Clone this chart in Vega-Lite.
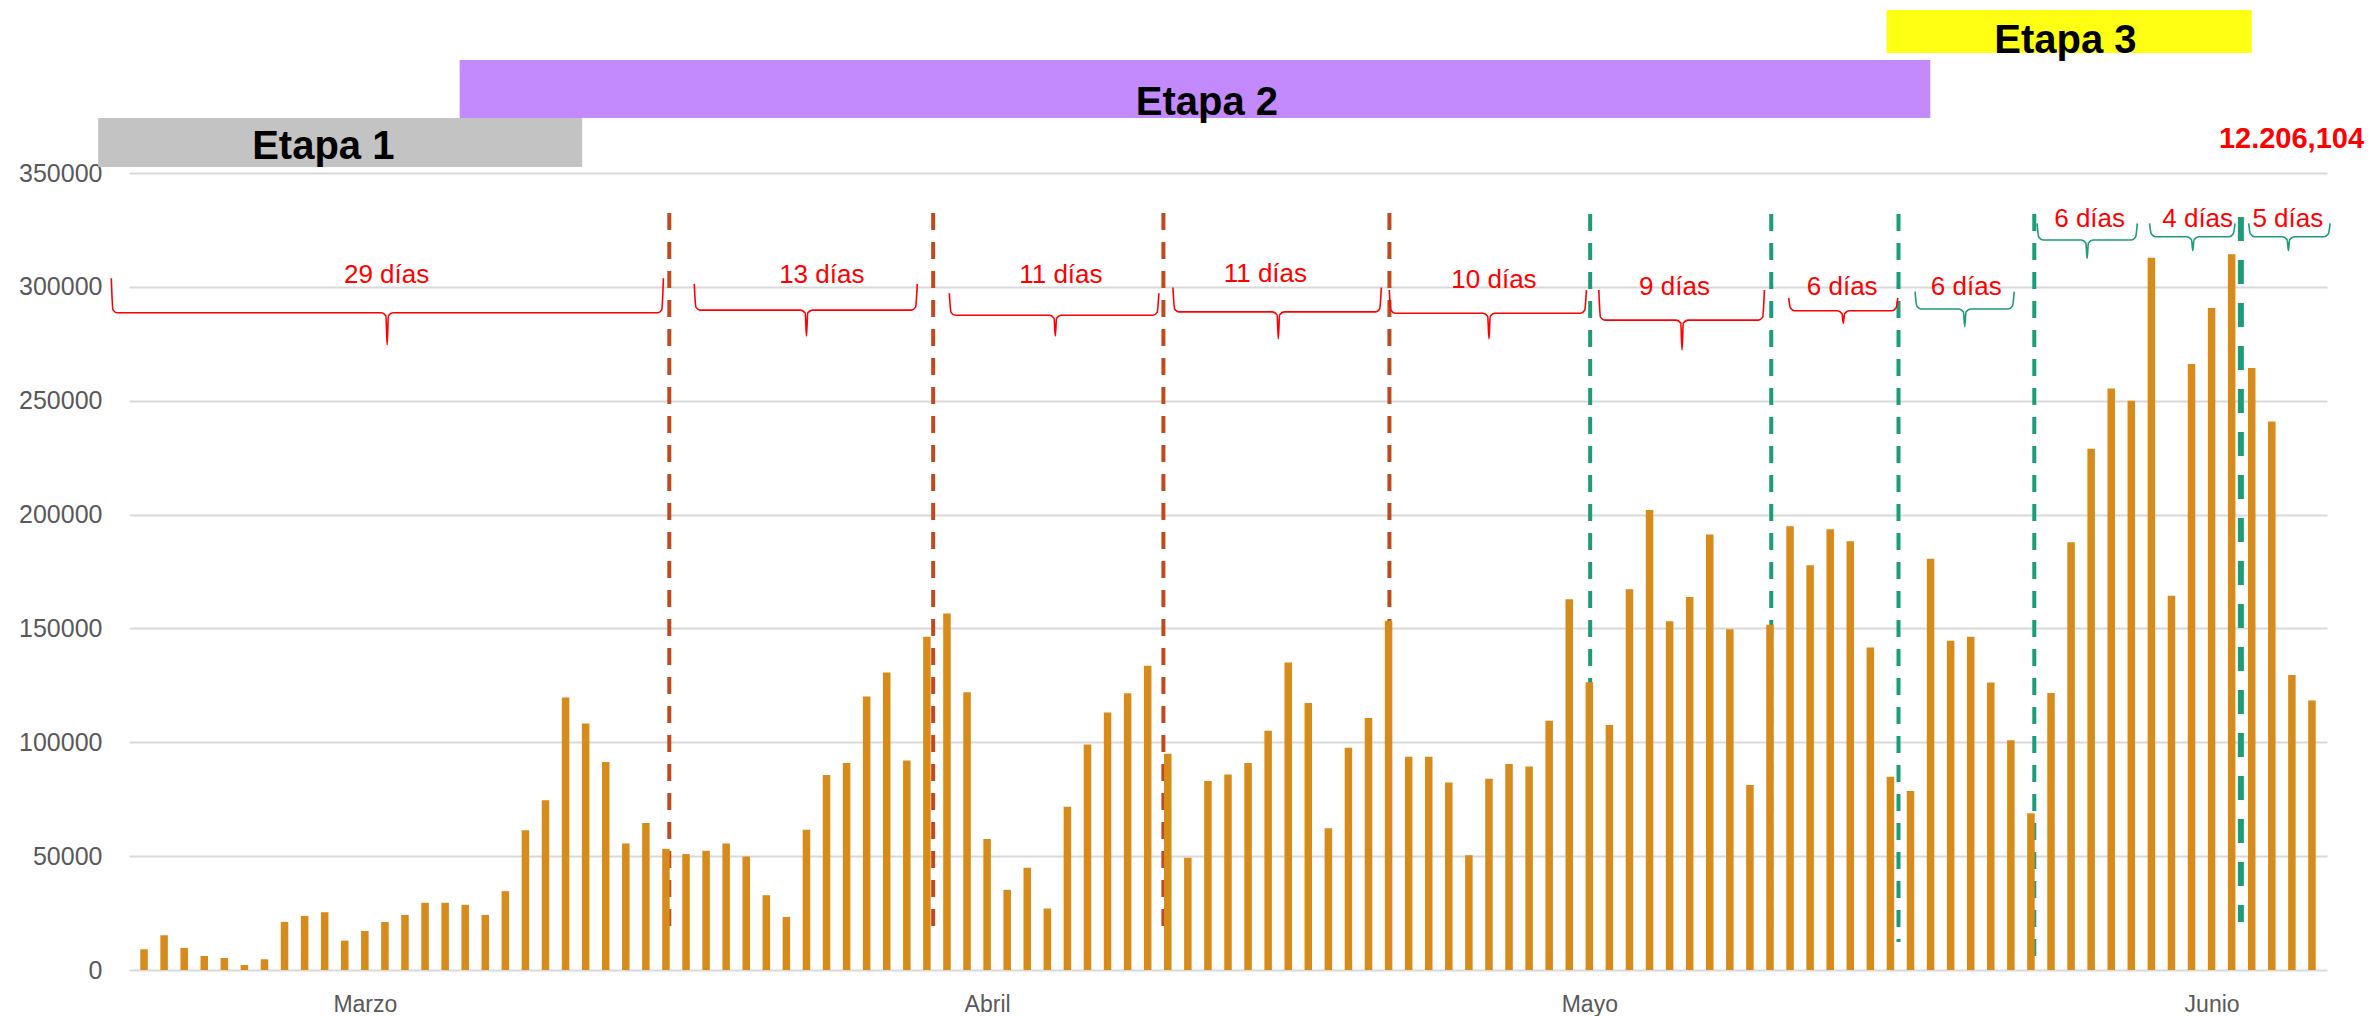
{
  "$schema": "https://vega.github.io/schema/vega-lite/v6.json",
  "width": 2198,
  "height": 797,
  "autosize": {"type": "none"},
  "padding": {"left": 129, "top": 173, "right": 44, "bottom": 46},
  "background": "white",
  "config": {"view": {"stroke": null}},
  "resolve": {"scale": {"color": "independent"}},
  "encoding": {
    "x": {
      "field": "fecha", "type": "temporal",
      "scale": {"type": "utc", "domain": [{"year": 2021, "month": 2, "date": 17, "hours": 12, "utc": true}, {"year": 2021, "month": 6, "date": 6, "hours": 12, "utc": true}]},
      "axis": {
        "title": null, "domain": false, "ticks": false, "grid": false,
        "values": [{"year": 2021, "month": 3, "date": 1, "utc": true}, {"year": 2021, "month": 4, "date": 1, "utc": true}, {"year": 2021, "month": 5, "date": 1, "utc": true}, {"year": 2021, "month": 6, "date": 1, "utc": true}],
        "labelExpr": "['Enero','Febrero','Marzo','Abril','Mayo','Junio','Julio'][utcmonth(datum.value)]",
        "labelFont": "Liberation Sans", "labelFontSize": 23, "labelColor": "#595959",
        "labelPadding": 23, "labelOverlap": false, "labelFlush": false
      }
    },
    "y": {
      "field": "valor", "type": "quantitative",
      "scale": {"domain": [0, 350000], "nice": false},
      "axis": {
        "title": null, "domain": false, "ticks": false, "grid": true, "gridColor": "#D9D9D9", "gridWidth": 2,
        "values": [0, 50000, 100000, 150000, 200000, 250000, 300000, 350000], "format": "d",
        "labelFont": "Liberation Sans", "labelFontSize": 25, "labelColor": "#595959", "labelPadding": 27
      }
    }
  },
  "layer": [
    {
      "data": {"values": [
        {"etapa": "Etapa 1", "fecha": "2021-02-15T17:10Z", "fecha2": "2021-03-11T19:50Z", "valor": 374100, "valor2": 352600},
        {"etapa": "Etapa 2", "fecha": "2021-03-05T17:20Z", "fecha2": "2021-05-17T23:40Z", "valor": 399600, "valor2": 374100},
        {"etapa": "Etapa 3", "fecha": "2021-05-15T19:20Z", "fecha2": "2021-06-03T00:00Z", "valor": 421600, "valor2": 402700}
      ]},
      "mark": {"type": "rect"},
      "encoding": {
        "x2": {"field": "fecha2"},
        "y2": {"field": "valor2"},
        "color": {"field": "etapa", "type": "nominal", "scale": {"domain": ["Etapa 1", "Etapa 2", "Etapa 3"], "range": ["#C3C3C3", "#C38AFE", "#FFFF14"]}, "legend": null}
      }
    },
    {
      "data": {"values": [
        {"texto": "Etapa 1", "fecha": "2021-02-26T22:20Z", "valor": 356100},
        {"texto": "Etapa 2", "fecha": "2021-04-11T22:50Z", "valor": 375500},
        {"texto": "Etapa 3", "fecha": "2021-05-24T17:10Z", "valor": 402700}
      ]},
      "mark": {"type": "text", "font": "Liberation Sans", "fontWeight": "bold", "fontSize": 40, "color": "#000000", "align": "center", "baseline": "alphabetic"},
      "encoding": {"text": {"field": "texto"}}
    },
    {
      "data": {"values": [
        {"fecha": "2021-03-16T04:00Z", "valor": 332400, "valor2": 18900},
        {"fecha": "2021-03-29T07:30Z", "valor": 332400, "valor2": 18900},
        {"fecha": "2021-04-09T18:45Z", "valor": 332400, "valor2": 18900},
        {"fecha": "2021-04-21T01:00Z", "valor": 332400, "valor2": 18900}
      ]},
      "mark": {"type": "rule", "color": "#BE4B1E", "strokeWidth": 4, "strokeDash": [17, 12]},
      "encoding": {"y2": {"field": "valor2"}}
    },
    {
      "data": {"values": [
        {"fecha": "2021-05-01T01:00Z", "valor": 332000, "valor2": 18900},
        {"fecha": "2021-05-10T01:30Z", "valor": 332000, "valor2": 18900},
        {"fecha": "2021-05-16T09:40Z", "valor": 332000, "valor2": 12300},
        {"fecha": "2021-05-23T04:00Z", "valor": 332000, "valor2": 5700}
      ]},
      "mark": {"type": "rule", "color": "#1E9B78", "strokeWidth": 4, "strokeDash": [17, 12]},
      "encoding": {"y2": {"field": "valor2"}}
    },
    {
      "data": {"values": [
        {"fecha": "2021-06-02T11:00Z", "valor": 330700, "valor2": 21100}
      ]},
      "mark": {"type": "rule", "color": "#1E9B78", "strokeWidth": 6, "strokeDash": [24, 19]},
      "encoding": {"y2": {"field": "valor2"}}
    },
    {
      "data": {"values": [
        {"fecha": "2021-02-18", "valor": 9100}, {"fecha": "2021-02-19", "valor": 15250}, {"fecha": "2021-02-20", "valor": 9700},
        {"fecha": "2021-02-21", "valor": 6160}, {"fecha": "2021-02-22", "valor": 5280}, {"fecha": "2021-02-23", "valor": 2200},
        {"fecha": "2021-02-24", "valor": 4700}, {"fecha": "2021-02-25", "valor": 21100}, {"fecha": "2021-02-26", "valor": 23750},
        {"fecha": "2021-02-27", "valor": 25370}, {"fecha": "2021-02-28", "valor": 12900}, {"fecha": "2021-03-01", "valor": 17150},
        {"fecha": "2021-03-02", "valor": 21100}, {"fecha": "2021-03-03", "valor": 24200}, {"fecha": "2021-03-04", "valor": 29500},
        {"fecha": "2021-03-05", "valor": 29500}, {"fecha": "2021-03-06", "valor": 28600}, {"fecha": "2021-03-07", "valor": 24200},
        {"fecha": "2021-03-08", "valor": 34600}, {"fecha": "2021-03-09", "valor": 61400}, {"fecha": "2021-03-10", "valor": 74600},
        {"fecha": "2021-03-11", "valor": 119650}, {"fecha": "2021-03-12", "valor": 108200}, {"fecha": "2021-03-13", "valor": 91350},
        {"fecha": "2021-03-14", "valor": 55570}, {"fecha": "2021-03-15", "valor": 64500}, {"fecha": "2021-03-16", "valor": 53200},
        {"fecha": "2021-03-17", "valor": 50900}, {"fecha": "2021-03-18", "valor": 52350}, {"fecha": "2021-03-19", "valor": 55570},
        {"fecha": "2021-03-20", "valor": 49850}, {"fecha": "2021-03-21", "valor": 32850}, {"fecha": "2021-03-22", "valor": 23300},
        {"fecha": "2021-03-23", "valor": 61600}, {"fecha": "2021-03-24", "valor": 85600}, {"fecha": "2021-03-25", "valor": 90900},
        {"fecha": "2021-03-26", "valor": 120100}, {"fecha": "2021-03-27", "valor": 130650}, {"fecha": "2021-03-28", "valor": 91950},
        {"fecha": "2021-03-29", "valor": 146300}, {"fecha": "2021-03-30", "valor": 156600}, {"fecha": "2021-03-31", "valor": 122000},
        {"fecha": "2021-04-01", "valor": 57500}, {"fecha": "2021-04-02", "valor": 35200}, {"fecha": "2021-04-03", "valor": 44900},
        {"fecha": "2021-04-04", "valor": 27000}, {"fecha": "2021-04-05", "valor": 71700}, {"fecha": "2021-04-06", "valor": 99000},
        {"fecha": "2021-04-07", "valor": 113050}, {"fecha": "2021-04-08", "valor": 121550}, {"fecha": "2021-04-09", "valor": 133600},
        {"fecha": "2021-04-10", "valor": 95000}, {"fecha": "2021-04-11", "valor": 49300}, {"fecha": "2021-04-12", "valor": 83000},
        {"fecha": "2021-04-13", "valor": 85800}, {"fecha": "2021-04-14", "valor": 90900}, {"fecha": "2021-04-15", "valor": 105100},
        {"fecha": "2021-04-16", "valor": 135000}, {"fecha": "2021-04-17", "valor": 117300}, {"fecha": "2021-04-18", "valor": 62300},
        {"fecha": "2021-04-19", "valor": 97650}, {"fecha": "2021-04-20", "valor": 110700}, {"fecha": "2021-04-21", "valor": 153400},
        {"fecha": "2021-04-22", "valor": 93700}, {"fecha": "2021-04-23", "valor": 93700}, {"fecha": "2021-04-24", "valor": 82300},
        {"fecha": "2021-04-25", "valor": 50400}, {"fecha": "2021-04-26", "valor": 84000}, {"fecha": "2021-04-27", "valor": 90500},
        {"fecha": "2021-04-28", "valor": 89400}, {"fecha": "2021-04-29", "valor": 109500}, {"fecha": "2021-04-30", "valor": 162800},
        {"fecha": "2021-05-01", "valor": 126400}, {"fecha": "2021-05-02", "valor": 107600}, {"fecha": "2021-05-03", "valor": 167200},
        {"fecha": "2021-05-04", "valor": 202000}, {"fecha": "2021-05-05", "valor": 153100}, {"fecha": "2021-05-06", "valor": 163800},
        {"fecha": "2021-05-07", "valor": 191200}, {"fecha": "2021-05-08", "valor": 149600}, {"fecha": "2021-05-09", "valor": 81200},
        {"fecha": "2021-05-10", "valor": 151600}, {"fecha": "2021-05-11", "valor": 194900}, {"fecha": "2021-05-12", "valor": 177700},
        {"fecha": "2021-05-13", "valor": 193500}, {"fecha": "2021-05-14", "valor": 188300}, {"fecha": "2021-05-15", "valor": 141600},
        {"fecha": "2021-05-16", "valor": 84900}, {"fecha": "2021-05-17", "valor": 78600}, {"fecha": "2021-05-18", "valor": 180600},
        {"fecha": "2021-05-19", "valor": 144600}, {"fecha": "2021-05-20", "valor": 146300}, {"fecha": "2021-05-21", "valor": 126200},
        {"fecha": "2021-05-22", "valor": 100900}, {"fecha": "2021-05-23", "valor": 68800}, {"fecha": "2021-05-24", "valor": 121600},
        {"fecha": "2021-05-25", "valor": 187800}, {"fecha": "2021-05-26", "valor": 228900}, {"fecha": "2021-05-27", "valor": 255400},
        {"fecha": "2021-05-28", "valor": 250000}, {"fecha": "2021-05-29", "valor": 312800}, {"fecha": "2021-05-30", "valor": 164400},
        {"fecha": "2021-05-31", "valor": 266100}, {"fecha": "2021-06-01", "valor": 290700}, {"fecha": "2021-06-02", "valor": 314300},
        {"fecha": "2021-06-03", "valor": 264400}, {"fecha": "2021-06-04", "valor": 240900}, {"fecha": "2021-06-05", "valor": 129500},
        {"fecha": "2021-06-06", "valor": 118300}
      ]},
      "mark": {"type": "bar", "width": 7.5, "color": "#D68B1A"}
    },
    {
      "data": {"values": [
        {"llave": 1, "etapa": "2", "fecha": "2021-02-16T08:50Z", "valor": 303800},
        {"llave": 1, "etapa": "2", "fecha": "2021-02-16T10:50Z", "valor": 289900},
        {"llave": 1, "etapa": "2", "fecha": "2021-02-16T15:50Z", "valor": 288600},
        {"llave": 1, "etapa": "2", "fecha": "2021-03-01T19:40Z", "valor": 288600},
        {"llave": 1, "etapa": "2", "fecha": "2021-03-02T01:10Z", "valor": 287300},
        {"llave": 1, "etapa": "2", "fecha": "2021-03-02T02:40Z", "valor": 274600},
        {"llave": 1, "etapa": "2", "fecha": "2021-03-02T04:10Z", "valor": 287300},
        {"llave": 1, "etapa": "2", "fecha": "2021-03-02T09:40Z", "valor": 288600},
        {"llave": 1, "etapa": "2", "fecha": "2021-03-15T14:00Z", "valor": 288600},
        {"llave": 1, "etapa": "2", "fecha": "2021-03-15T19:00Z", "valor": 289900},
        {"llave": 1, "etapa": "2", "fecha": "2021-03-15T21:00Z", "valor": 303800},

        {"llave": 2, "etapa": "2", "fecha": "2021-03-17T09:50Z", "valor": 301300},
        {"llave": 2, "etapa": "2", "fecha": "2021-03-17T11:50Z", "valor": 291100},
        {"llave": 2, "etapa": "2", "fecha": "2021-03-17T16:50Z", "valor": 289800},
        {"llave": 2, "etapa": "2", "fecha": "2021-03-22T17:00Z", "valor": 289800},
        {"llave": 2, "etapa": "2", "fecha": "2021-03-22T22:30Z", "valor": 288500},
        {"llave": 2, "etapa": "2", "fecha": "2021-03-23T00:00Z", "valor": 278400},
        {"llave": 2, "etapa": "2", "fecha": "2021-03-23T01:30Z", "valor": 288500},
        {"llave": 2, "etapa": "2", "fecha": "2021-03-23T07:00Z", "valor": 289800},
        {"llave": 2, "etapa": "2", "fecha": "2021-03-28T05:30Z", "valor": 289800},
        {"llave": 2, "etapa": "2", "fecha": "2021-03-28T10:30Z", "valor": 291100},
        {"llave": 2, "etapa": "2", "fecha": "2021-03-28T12:30Z", "valor": 301300},

        {"llave": 3, "etapa": "2", "fecha": "2021-03-30T02:50Z", "valor": 297200},
        {"llave": 3, "etapa": "2", "fecha": "2021-03-30T04:50Z", "valor": 288800},
        {"llave": 3, "etapa": "2", "fecha": "2021-03-30T09:50Z", "valor": 287500},
        {"llave": 3, "etapa": "2", "fecha": "2021-04-04T02:30Z", "valor": 287500},
        {"llave": 3, "etapa": "2", "fecha": "2021-04-04T08:00Z", "valor": 286200},
        {"llave": 3, "etapa": "2", "fecha": "2021-04-04T09:30Z", "valor": 278400},
        {"llave": 3, "etapa": "2", "fecha": "2021-04-04T11:00Z", "valor": 286200},
        {"llave": 3, "etapa": "2", "fecha": "2021-04-04T16:30Z", "valor": 287500},
        {"llave": 3, "etapa": "2", "fecha": "2021-04-09T06:20Z", "valor": 287500},
        {"llave": 3, "etapa": "2", "fecha": "2021-04-09T11:20Z", "valor": 288800},
        {"llave": 3, "etapa": "2", "fecha": "2021-04-09T13:20Z", "valor": 297200},

        {"llave": 4, "etapa": "2", "fecha": "2021-04-10T06:10Z", "valor": 299700},
        {"llave": 4, "etapa": "2", "fecha": "2021-04-10T08:10Z", "valor": 290300},
        {"llave": 4, "etapa": "2", "fecha": "2021-04-10T13:10Z", "valor": 289000},
        {"llave": 4, "etapa": "2", "fecha": "2021-04-15T05:10Z", "valor": 289000},
        {"llave": 4, "etapa": "2", "fecha": "2021-04-15T10:40Z", "valor": 287700},
        {"llave": 4, "etapa": "2", "fecha": "2021-04-15T12:10Z", "valor": 277200},
        {"llave": 4, "etapa": "2", "fecha": "2021-04-15T13:40Z", "valor": 287700},
        {"llave": 4, "etapa": "2", "fecha": "2021-04-15T19:10Z", "valor": 289000},
        {"llave": 4, "etapa": "2", "fecha": "2021-04-20T08:20Z", "valor": 289000},
        {"llave": 4, "etapa": "2", "fecha": "2021-04-20T13:20Z", "valor": 290300},
        {"llave": 4, "etapa": "2", "fecha": "2021-04-20T15:20Z", "valor": 299700},

        {"llave": 5, "etapa": "2", "fecha": "2021-04-21T00:50Z", "valor": 298600},
        {"llave": 5, "etapa": "2", "fecha": "2021-04-21T02:50Z", "valor": 289700},
        {"llave": 5, "etapa": "2", "fecha": "2021-04-21T07:50Z", "valor": 288400},
        {"llave": 5, "etapa": "2", "fecha": "2021-04-25T17:00Z", "valor": 288400},
        {"llave": 5, "etapa": "2", "fecha": "2021-04-25T22:30Z", "valor": 287100},
        {"llave": 5, "etapa": "2", "fecha": "2021-04-26T00:00Z", "valor": 277200},
        {"llave": 5, "etapa": "2", "fecha": "2021-04-26T01:30Z", "valor": 287100},
        {"llave": 5, "etapa": "2", "fecha": "2021-04-26T07:00Z", "valor": 288400},
        {"llave": 5, "etapa": "2", "fecha": "2021-04-30T13:30Z", "valor": 288400},
        {"llave": 5, "etapa": "2", "fecha": "2021-04-30T18:30Z", "valor": 289700},
        {"llave": 5, "etapa": "2", "fecha": "2021-04-30T20:30Z", "valor": 298600},

        {"llave": 6, "etapa": "2", "fecha": "2021-05-01T11:20Z", "valor": 298600},
        {"llave": 6, "etapa": "2", "fecha": "2021-05-01T13:20Z", "valor": 286700},
        {"llave": 6, "etapa": "2", "fecha": "2021-05-01T18:20Z", "valor": 285400},
        {"llave": 6, "etapa": "2", "fecha": "2021-05-05T07:50Z", "valor": 285400},
        {"llave": 6, "etapa": "2", "fecha": "2021-05-05T13:20Z", "valor": 284100},
        {"llave": 6, "etapa": "2", "fecha": "2021-05-05T14:50Z", "valor": 272300},
        {"llave": 6, "etapa": "2", "fecha": "2021-05-05T16:20Z", "valor": 284100},
        {"llave": 6, "etapa": "2", "fecha": "2021-05-05T21:50Z", "valor": 285400},
        {"llave": 6, "etapa": "2", "fecha": "2021-05-09T10:20Z", "valor": 285400},
        {"llave": 6, "etapa": "2", "fecha": "2021-05-09T15:20Z", "valor": 286700},
        {"llave": 6, "etapa": "2", "fecha": "2021-05-09T17:20Z", "valor": 298600},

        {"llave": 7, "etapa": "2", "fecha": "2021-05-10T22:20Z", "valor": 295200},
        {"llave": 7, "etapa": "2", "fecha": "2021-05-11T00:20Z", "valor": 290800},
        {"llave": 7, "etapa": "2", "fecha": "2021-05-11T05:20Z", "valor": 289500},
        {"llave": 7, "etapa": "2", "fecha": "2021-05-13T08:40Z", "valor": 289500},
        {"llave": 7, "etapa": "2", "fecha": "2021-05-13T14:10Z", "valor": 288200},
        {"llave": 7, "etapa": "2", "fecha": "2021-05-13T15:40Z", "valor": 284000},
        {"llave": 7, "etapa": "2", "fecha": "2021-05-13T17:10Z", "valor": 288200},
        {"llave": 7, "etapa": "2", "fecha": "2021-05-13T22:40Z", "valor": 289500},
        {"llave": 7, "etapa": "2", "fecha": "2021-05-16T01:50Z", "valor": 289500},
        {"llave": 7, "etapa": "2", "fecha": "2021-05-16T06:50Z", "valor": 290800},
        {"llave": 7, "etapa": "2", "fecha": "2021-05-16T08:50Z", "valor": 295200},

        {"llave": 8, "etapa": "3", "fecha": "2021-05-17T05:30Z", "valor": 297900},
        {"llave": 8, "etapa": "3", "fecha": "2021-05-17T07:30Z", "valor": 291600},
        {"llave": 8, "etapa": "3", "fecha": "2021-05-17T12:30Z", "valor": 290300},
        {"llave": 8, "etapa": "3", "fecha": "2021-05-19T09:50Z", "valor": 290300},
        {"llave": 8, "etapa": "3", "fecha": "2021-05-19T15:20Z", "valor": 289000},
        {"llave": 8, "etapa": "3", "fecha": "2021-05-19T16:50Z", "valor": 282500},
        {"llave": 8, "etapa": "3", "fecha": "2021-05-19T18:20Z", "valor": 289000},
        {"llave": 8, "etapa": "3", "fecha": "2021-05-19T23:50Z", "valor": 290300},
        {"llave": 8, "etapa": "3", "fecha": "2021-05-21T21:00Z", "valor": 290300},
        {"llave": 8, "etapa": "3", "fecha": "2021-05-22T02:00Z", "valor": 291600},
        {"llave": 8, "etapa": "3", "fecha": "2021-05-22T04:00Z", "valor": 297900},

        {"llave": 9, "etapa": "3", "fecha": "2021-05-23T07:20Z", "valor": 327900},
        {"llave": 9, "etapa": "3", "fecha": "2021-05-23T09:20Z", "valor": 321900},
        {"llave": 9, "etapa": "3", "fecha": "2021-05-23T14:20Z", "valor": 320600},
        {"llave": 9, "etapa": "3", "fecha": "2021-05-25T12:10Z", "valor": 320600},
        {"llave": 9, "etapa": "3", "fecha": "2021-05-25T17:40Z", "valor": 319300},
        {"llave": 9, "etapa": "3", "fecha": "2021-05-25T19:10Z", "valor": 312500},
        {"llave": 9, "etapa": "3", "fecha": "2021-05-25T20:40Z", "valor": 319300},
        {"llave": 9, "etapa": "3", "fecha": "2021-05-26T02:10Z", "valor": 320600},
        {"llave": 9, "etapa": "3", "fecha": "2021-05-28T00:10Z", "valor": 320600},
        {"llave": 9, "etapa": "3", "fecha": "2021-05-28T05:10Z", "valor": 321900},
        {"llave": 9, "etapa": "3", "fecha": "2021-05-28T07:10Z", "valor": 327900},

        {"llave": 10, "etapa": "3", "fecha": "2021-05-28T21:50Z", "valor": 327900},
        {"llave": 10, "etapa": "3", "fecha": "2021-05-28T23:50Z", "valor": 323300},
        {"llave": 10, "etapa": "3", "fecha": "2021-05-29T04:50Z", "valor": 322000},
        {"llave": 10, "etapa": "3", "fecha": "2021-05-30T18:30Z", "valor": 322000},
        {"llave": 10, "etapa": "3", "fecha": "2021-05-31T00:00Z", "valor": 320700},
        {"llave": 10, "etapa": "3", "fecha": "2021-05-31T01:30Z", "valor": 315900},
        {"llave": 10, "etapa": "3", "fecha": "2021-05-31T03:00Z", "valor": 320700},
        {"llave": 10, "etapa": "3", "fecha": "2021-05-31T08:30Z", "valor": 322000},
        {"llave": 10, "etapa": "3", "fecha": "2021-06-01T21:00Z", "valor": 322000},
        {"llave": 10, "etapa": "3", "fecha": "2021-06-02T02:00Z", "valor": 323300},
        {"llave": 10, "etapa": "3", "fecha": "2021-06-02T04:00Z", "valor": 327900},

        {"llave": 11, "etapa": "3", "fecha": "2021-06-02T20:20Z", "valor": 327900},
        {"llave": 11, "etapa": "3", "fecha": "2021-06-02T22:20Z", "valor": 323300},
        {"llave": 11, "etapa": "3", "fecha": "2021-06-03T03:20Z", "valor": 322000},
        {"llave": 11, "etapa": "3", "fecha": "2021-06-04T12:50Z", "valor": 322000},
        {"llave": 11, "etapa": "3", "fecha": "2021-06-04T18:20Z", "valor": 320700},
        {"llave": 11, "etapa": "3", "fecha": "2021-06-04T19:50Z", "valor": 315900},
        {"llave": 11, "etapa": "3", "fecha": "2021-06-04T21:20Z", "valor": 320700},
        {"llave": 11, "etapa": "3", "fecha": "2021-06-05T02:50Z", "valor": 322000},
        {"llave": 11, "etapa": "3", "fecha": "2021-06-06T14:40Z", "valor": 322000},
        {"llave": 11, "etapa": "3", "fecha": "2021-06-06T19:40Z", "valor": 323300},
        {"llave": 11, "etapa": "3", "fecha": "2021-06-06T21:40Z", "valor": 327900}
      ]},
      "mark": {"type": "line", "interpolate": "monotone", "strokeWidth": 1.6},
      "encoding": {
        "detail": {"field": "llave", "type": "nominal"},
        "color": {"field": "etapa", "type": "nominal", "scale": {"domain": ["2", "3"], "range": ["#FF0000", "#1E9B78"]}, "legend": null}
      }
    },
    {
      "data": {"values": [
        {"texto": "29 días", "fecha": "2021-03-02T02:00Z", "valor": 301700},
        {"texto": "13 días", "fecha": "2021-03-23T18:20Z", "valor": 301600},
        {"texto": "11 días", "fecha": "2021-04-04T16:10Z", "valor": 301600},
        {"texto": "11 días", "fecha": "2021-04-14T20:40Z", "valor": 302300},
        {"texto": "10 días", "fecha": "2021-04-26T06:00Z", "valor": 299400},
        {"texto": "9 días", "fecha": "2021-05-05T05:50Z", "valor": 296400},
        {"texto": "6 días", "fecha": "2021-05-13T14:20Z", "valor": 296400},
        {"texto": "6 días", "fecha": "2021-05-19T18:40Z", "valor": 296400},
        {"texto": "6 días", "fecha": "2021-05-25T22:10Z", "valor": 326400},
        {"texto": "4 días", "fecha": "2021-05-31T07:20Z", "valor": 326200},
        {"texto": "5 días", "fecha": "2021-06-04T19:10Z", "valor": 326400}
      ]},
      "mark": {"type": "text", "font": "Liberation Sans", "fontSize": 26, "color": "#FF0000", "align": "center", "baseline": "alphabetic"},
      "encoding": {"text": {"field": "texto"}}
    },
    {
      "data": {"values": [
        {"texto": "12.206,104", "fecha": "2021-06-04T23:30Z", "valor": 361000}
      ]},
      "mark": {"type": "text", "font": "Liberation Sans", "fontWeight": "bold", "fontSize": 29, "color": "#FF0000", "align": "center", "baseline": "alphabetic"},
      "encoding": {"text": {"field": "texto"}}
    }
  ]
}
